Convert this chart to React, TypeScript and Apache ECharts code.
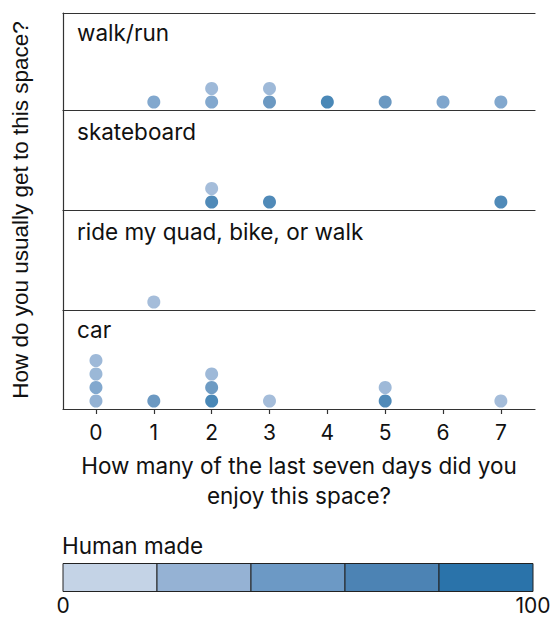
import React, { useEffect, useRef } from "react";
import * as echarts from "echarts";

const CATEGORIES = ["walk/run", "skateboard", "ride my quad, bike, or walk", "car"];
// [days enjoyed, human made %], listed bottom-to-top within each stack
const WALK_RUN: [number, number][] = [[1, 50], [2, 50], [2, 30], [3, 70], [3, 30], [4, 100], [5, 72], [6, 52], [7, 50]];
const SKATEBOARD: [number, number][] = [[2, 95], [2, 25], [3, 95], [7, 95]];
const RIDE: [number, number][] = [[1, 25]];
const CAR: [number, number][] = [[0, 38], [0, 50], [0, 32], [0, 30], [1, 70], [2, 100], [2, 68], [2, 30], [3, 25], [5, 95], [5, 30], [7, 25]];
const PANEL_DATA = [WALK_RUN, SKATEBOARD, RIDE, CAR];
const X_TICKS = [0, 1, 2, 3, 4, 5, 6, 7];
const LEGEND_BINS = ["#c4d3e6", "#95b2d4", "#6c99c5", "#4c83b4", "#2a73aa"];
const LEGEND_RANGE = [0, 100];
const X_TITLE = "How many of the last seven days did you\nenjoy this space?";
const Y_TITLE = "How do you usually get to this space?";
const LEGEND_TITLE = "Human made";

const W = 556;
const H = 617;
const LEFT = 63;
const RIGHT_EDGE = 535;
const TOPS = [13, 110, 210, 310];
const BOTTOMS = [110, 210, 310, 409];
const STEP = 13.5;
const BASE = 8;
const FONT = "Inter, 'Noto Sans', sans-serif";
const LINE = "#333";
const TXT = 22.5;

function stackData(d: [number, number][]) {
  const counts: Record<number, number> = {};
  return d.map(([x, v]) => {
    const i = counts[x] || 0;
    counts[x] = i + 1;
    return [x, i, v];
  });
}

export default function App() {
  const ref = useRef<HTMLDivElement>(null);
  useEffect(() => {
    if (!ref.current) return;
    const chart = echarts.init(ref.current, null, { renderer: "svg", width: W, height: H });
    const grids = TOPS.map((t, i) => ({
      left: LEFT,
      width: RIGHT_EDGE - LEFT,
      top: t,
      height: BOTTOMS[i] - t,
    }));
    const xAxes: any[] = TOPS.map((_, i) => ({
      type: "value",
      gridIndex: i,
      position: "top",
      min: -0.57,
      max: 7.59,
      axisLine: { show: true, onZero: false, lineStyle: { color: LINE, width: 1.2 } },
      axisTick: { show: false },
      axisLabel: { show: false },
      splitLine: { show: false },
    }));
    xAxes.push({
      type: "value",
      gridIndex: 3,
      position: "bottom",
      min: -0.57,
      max: 7.59,
      axisLine: { show: true, onZero: false, lineStyle: { color: LINE, width: 1.2 } },
      axisTick: { show: true, length: 5, customValues: X_TICKS, lineStyle: { color: LINE, width: 1.2 } },
      axisLabel: { show: true, customValues: X_TICKS, fontSize: 21, color: "#111", fontFamily: FONT, margin: 13 },
      splitLine: { show: false },
      name: X_TITLE,
      nameLocation: "middle",
      nameGap: 41,
      nameTextStyle: { fontSize: TXT, color: "#111", fontFamily: FONT, lineHeight: 30 },
    });
    const yAxes = TOPS.map((t, i) => {
      const h = BOTTOMS[i] - t;
      const min = -BASE / STEP;
      return {
        type: "value",
        gridIndex: i,
        min,
        max: min + h / STEP,
        axisLine: { show: true, onZero: false, lineStyle: { color: LINE, width: 1.2 } },
        axisTick: { show: false },
        axisLabel: { show: false },
        splitLine: { show: false },
      };
    });
    const series = PANEL_DATA.map((d, i) => ({
      type: "scatter",
      xAxisIndex: i,
      yAxisIndex: i,
      symbolSize: 13,
      itemStyle: { opacity: 0.85 },
      data: stackData(d),
    }));
    const legendX0 = 63;
    const legendX1 = 533;
    const binW = (legendX1 - legendX0) / LEGEND_BINS.length;
    const graphic: any[] = [];
    const titleY = [32, 131, 231, 329];
    CATEGORIES.forEach((c, i) => {
      graphic.push({
        type: "text",
        x: 77,
        y: titleY[i],
        style: { text: c, fontSize: TXT, fill: "#111", fontFamily: FONT, verticalAlign: "middle" },
      });
    });
    graphic.push({
      type: "text",
      x: 20,
      y: 210,
      rotation: Math.PI / 2,
      style: {
        text: Y_TITLE,
        fontSize: 22.5,
        fill: "#111",
        fontFamily: "'Liberation Sans', Arial, sans-serif",
        align: "center",
        verticalAlign: "middle",
      },
    });
    graphic.push({
      type: "text",
      x: 62,
      y: 545,
      style: { text: LEGEND_TITLE, fontSize: TXT, fill: "#111", fontFamily: FONT, verticalAlign: "middle" },
    });
    LEGEND_BINS.forEach((c, i) => {
      graphic.push({
        type: "rect",
        shape: { x: legendX0 + i * binW, y: 563.5, width: binW, height: 28 },
        style: { fill: c, stroke: "#222", lineWidth: 1 },
      });
    });
    graphic.push({
      type: "text",
      x: legendX0,
      y: 605,
      style: { text: String(LEGEND_RANGE[0]), fontSize: 21, fill: "#111", fontFamily: FONT, align: "center", verticalAlign: "middle" },
    });
    graphic.push({
      type: "text",
      x: legendX1,
      y: 605,
      style: { text: String(LEGEND_RANGE[1]), fontSize: 21, fill: "#111", fontFamily: FONT, align: "center", verticalAlign: "middle" },
    });
    chart.setOption({
      animation: false,
      grid: grids,
      xAxis: xAxes,
      yAxis: yAxes,
      visualMap: {
        show: false,
        type: "continuous",
        dimension: 2,
        min: LEGEND_RANGE[0],
        max: LEGEND_RANGE[1],
        inRange: { color: LEGEND_BINS },
        seriesIndex: [0, 1, 2, 3],
      },
      series,
      graphic,
    });
    return () => chart.dispose();
  }, []);
  return <div ref={ref} style={{ position: "fixed", left: 0, top: 0, width: W, height: H, background: "#fff" }} />;
}
